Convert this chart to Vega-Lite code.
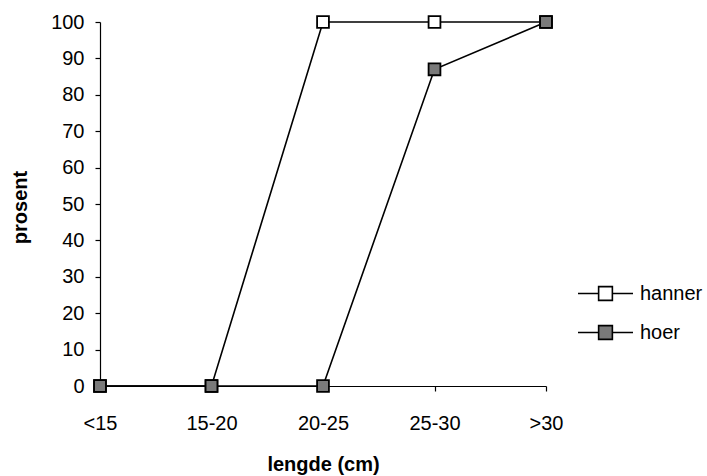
{
  "$schema": "https://vega.github.io/schema/vega-lite/v6.json",
  "width": 446,
  "height": 364,
  "autosize": {"type": "none"},
  "padding": {"left": 100, "top": 22, "right": 161, "bottom": 90},
  "background": "white",
  "config": {
    "view": {"stroke": null},
    "font": "Liberation Sans",
    "axis": {"grid": false, "domainColor": "black", "tickColor": "black", "labelColor": "black", "titleColor": "black", "domainWidth": 1.2, "tickWidth": 1.2}
  },
  "data": {
    "values": [
      {"lengde": "<15", "serie": "hanner", "prosent": 0},
      {"lengde": "15-20", "serie": "hanner", "prosent": 0},
      {"lengde": "20-25", "serie": "hanner", "prosent": 100},
      {"lengde": "25-30", "serie": "hanner", "prosent": 100},
      {"lengde": ">30", "serie": "hanner", "prosent": 100},
      {"lengde": "<15", "serie": "hoer", "prosent": 0},
      {"lengde": "15-20", "serie": "hoer", "prosent": 0},
      {"lengde": "20-25", "serie": "hoer", "prosent": 0},
      {"lengde": "25-30", "serie": "hoer", "prosent": 87},
      {"lengde": ">30", "serie": "hoer", "prosent": 100}
    ]
  },
  "encoding": {
    "x": {
      "field": "lengde",
      "type": "ordinal",
      "sort": ["<15", "15-20", "20-25", "25-30", ">30"],
      "scale": {"type": "point", "padding": 0},
      "axis": {
        "title": "lengde (cm)",
        "labelAngle": 0,
        "labelFontSize": 20,
        "labelPadding": 22,
        "tickSize": 5,
        "titleFontSize": 20,
        "titleFontWeight": "bold",
        "titleBaseline": "alphabetic",
        "titleY": 84
      }
    },
    "y": {
      "field": "prosent",
      "type": "quantitative",
      "scale": {"domain": [0, 100], "nice": false},
      "axis": {
        "title": "prosent",
        "values": [0, 10, 20, 30, 40, 50, 60, 70, 80, 90, 100],
        "labelFontSize": 20,
        "labelPadding": 11,
        "tickSize": 5,
        "titleFontSize": 20,
        "titleFontWeight": "bold",
        "titleAngle": -90,
        "titleX": -80,
        "titleY": 185,
        "titleBaseline": "middle",
        "titleAlign": "center"
      }
    }
  },
  "layer": [
    {
      "mark": {"type": "line", "color": "black", "strokeWidth": 1.6},
      "encoding": {"detail": {"field": "serie"}}
    },
    {
      "mark": {"type": "point", "shape": "square", "size": 140, "filled": true, "stroke": "black", "strokeWidth": 1.8, "opacity": 1},
      "encoding": {
        "fill": {
          "field": "serie",
          "type": "nominal",
          "scale": {"domain": ["hanner", "hoer"], "range": ["white", "#7a7a7a"]},
          "legend": {
            "title": null,
            "orient": "none",
            "legendX": 477,
            "legendY": 243,
            "symbolType": "M-1,0H-0.25M0.25,0H1M-0.25,-0.25H0.25V0.25H-0.25Z",
            "symbolSize": 3025,
            "symbolStrokeColor": "black",
            "symbolStrokeWidth": 1.6,
            "symbolOpacity": 1,
            "labelFontSize": 20,
            "labelColor": "black",
            "labelOffset": 6,
            "rowPadding": -16
          }
        }
      }
    }
  ]
}
